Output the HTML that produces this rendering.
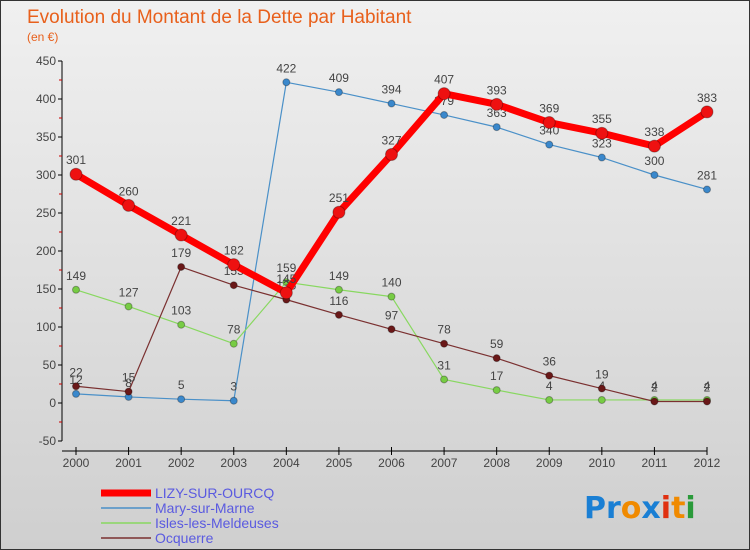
<!DOCTYPE html>
<html><head><meta charset="utf-8"><style>
body{margin:0}
#c{width:750px;height:550px;position:relative;background:linear-gradient(#f0f0f0,#cfcfcf);box-sizing:border-box;border:1px solid #333;font-family:"Liberation Sans",sans-serif;overflow:hidden}
</style></head><body>
<div id="c">
<svg width="750" height="550" style="position:absolute;left:0;top:0">
<text x="26" y="22" font-size="19" fill="#e8601c">Evolution du Montant de la Dette par Habitant</text>
<text x="26" y="40" font-size="12" fill="#e8601c">(en €)</text>
<g id="axes"></g><g id="series"></g><g id="legend"></g>
<text x="583" y="517" font-size="30" font-family="'DejaVu Sans',sans-serif" font-weight="bold"><tspan fill="#1a7fd4">Pr</tspan><tspan fill="#f08a00">o</tspan><tspan fill="#1a7fd4">x</tspan><tspan fill="#e03010">i</tspan><tspan fill="#f08a00">t</tspan><tspan fill="#2a9a3a">i</tspan></text>
</svg>
</div>
<script>
const years=[2000,2001,2002,2003,2004,2005,2006,2007,2008,2009,2010,2011,2012];
const yTicks=[-50,0,50,100,150,200,250,300,350,400,450];
const seriesNames=["LIZY-SUR-OURCQ","Mary-sur-Marne","Isles-les-Meldeuses","Ocquerre"];
const lizy=[301,260,221,182,145,251,327,407,393,369,355,338,383];
const mary=[12,8,5,3,422,409,394,379,363,340,323,300,281];
const isles=[149,127,103,78,159,149,140,31,17,4,4,4,4];
const ocq=[22,15,179,155,136,116,97,78,59,36,19,2,2];
const NS="http://www.w3.org/2000/svg";
const X=i=>75+i*(706-75)/12, Y=v=>402-v*0.76;
function mk(p,t,a){const e=document.createElementNS(NS,t);for(const k in a)e.setAttribute(k,a[k]);p.appendChild(e);return e;}
const ax=document.getElementById('axes');
let l=mk(ax,'line',{x1:61,y1:Y(-50),x2:61,y2:Y(450),stroke:'#000'});


l=mk(ax,'line',{x1:61,y1:450,x2:X(12),y2:450,stroke:'#000'});


yTicks.forEach(v=>{mk(ax,'line',{x1:57,y1:Y(v),x2:61,y2:Y(v),stroke:'#000'});
 if(v<450)mk(ax,'line',{x1:58,y1:Y(v+25),x2:61,y2:Y(v+25),stroke:'#c00'});
 const t=mk(ax,'text',{x:55,y:Y(v)+4,'text-anchor':'end','font-size':12,fill:'#444'});t.textContent=v;
 
 });
years.forEach((y,i)=>{mk(ax,'line',{x1:X(i),y1:446,x2:X(i),y2:454,stroke:'#000'});
 const t=mk(ax,'text',{x:X(i),y:466,'text-anchor':'middle','font-size':12,fill:'#444'});t.textContent=y;
 
 });
const sg=document.getElementById('series');
const defs=[[mary,'#4a90c8','#3a88cc',1.2,3.5,'mary-sur-marne'],[isles,'#88d860','#77cc44',1.2,3.5,'isles-les-meldeuses'],[ocq,'#7a3030','#6a1818',1.2,3.5,'ocquerre'],[lizy,'#ff0000','#ee1111',7,6,'lizy-sur-ourcq']];
defs.forEach(([d,c,fc,w,r,n])=>{const g=mk(sg,'g',{});
 
 
 const p=mk(g,'polyline',{points:d.map((v,i)=>X(i)+','+Y(v)).join(' '),fill:'none',stroke:c,'stroke-width':w,'stroke-linejoin':'round'});
 
 
 d.forEach((v,i)=>{const ci=mk(g,'circle',{cx:X(i),cy:Y(v),r:r,fill:fc,stroke:'rgba(0,0,0,0.3)'});
  
  
  const t=mk(g,'text',{x:X(i),y:Y(v)-10,'text-anchor':'middle','font-size':12,fill:'#444'});t.textContent=v;
  
  });});
const lg=document.getElementById('legend');
const lc=['#ff0000','#4a90c8','#88d860','#7a3030'],lw=[7,1.5,1.5,1.5];
seriesNames.forEach((s,i)=>{const y=492+i*15;const g=mk(lg,'g',{});
 
 
 mk(g,'line',{x1:100,y1:y,x2:150,y2:y,stroke:lc[i],'stroke-width':lw[i]});
 const t=mk(g,'text',{x:154,y:y+5,'font-size':14,fill:'#5a5ae0'});t.textContent=s;});
</script>
</body></html>
